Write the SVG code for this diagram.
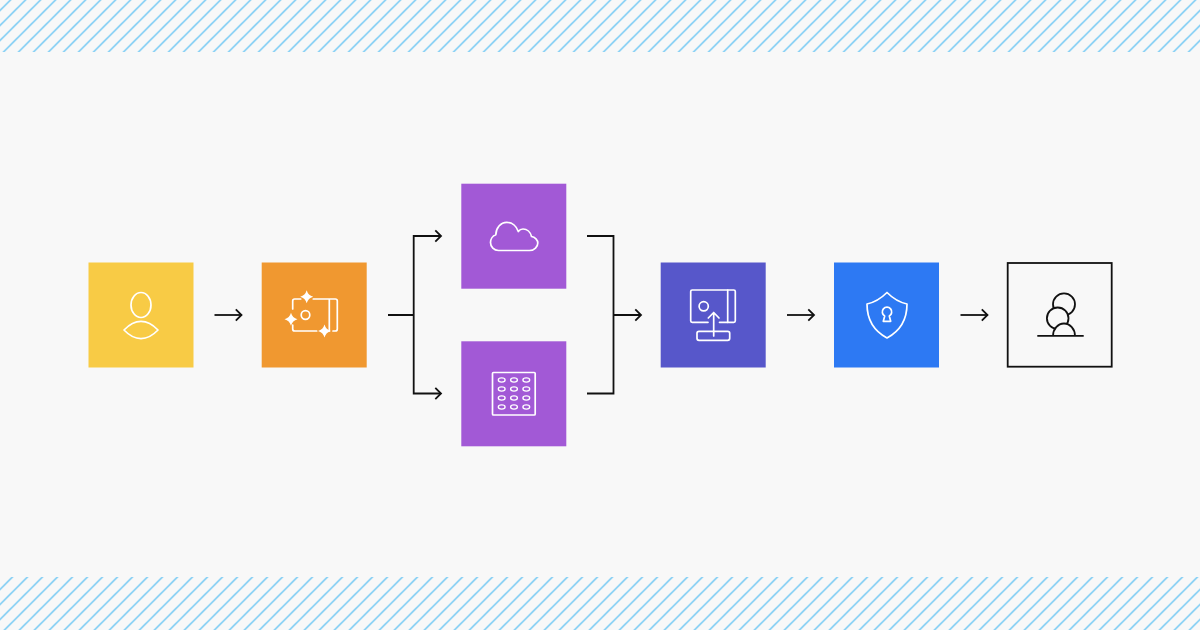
<svg xmlns="http://www.w3.org/2000/svg" width="1200" height="630" viewBox="0 0 1200 630">
<style>
.ic{fill:none;stroke:#fff;stroke-width:1.7;stroke-linecap:round;stroke-linejoin:round}
.sm{fill:none;stroke:#fff;stroke-width:1.3}
.sp{fill:#fff}
.k{fill:none;stroke:#111;stroke-width:1.8}
.b{fill:#f8f8f8;stroke:#111;stroke-width:1.8}
</style>
<defs>
<pattern id="hT" patternUnits="userSpaceOnUse" width="15" height="15" patternTransform="translate(10.5 0)"><path d="M-2,2 L2,-2 M-2,17 L17,-2 M13,17 L17,13" stroke="#6cc6f3" stroke-width="1.4" fill="none"/></pattern>
<pattern id="hB" patternUnits="userSpaceOnUse" width="15" height="15" patternTransform="translate(4.5 0)"><path d="M-2,2 L2,-2 M-2,17 L17,-2 M13,17 L17,13" stroke="#6cc6f3" stroke-width="1.4" fill="none"/></pattern>
<path id="head" d="M-5.700,-5.700 L0,0 L-5.700,5.700" fill="none" stroke="#111" stroke-width="1.8"/>
<path id="star" d="M0,-6.500 Q1.400,-1.400 6.500,0 Q1.400,1.400 0,6.500 Q-1.400,1.400 -6.500,0 Q-1.400,-1.400 0,-6.500Z"/>
</defs>
<rect width="1200" height="630" fill="#f8f8f8"/>
<g id="hatch">
<rect x="0" y="0" width="1200" height="52" fill="url(#hT)"/>
<rect x="0" y="577" width="1200" height="53" fill="url(#hB)"/>
</g>
<g id="connectors">
<path class="k" d="M214.500,315 H241.500"/><use href="#head" x="241.500" y="315"/>
<path class="k" d="M388,315 H413.700 M441,236 H413.700 V393.500 H441"/><use href="#head" x="441" y="236"/><use href="#head" x="441" y="393.500"/>
<path class="k" d="M587,236 H613.500 V393.500 H587 M613.500,315 H641"/><use href="#head" x="641" y="315"/>
<path class="k" d="M787,315 H814"/><use href="#head" x="814" y="315"/>
<path class="k" d="M960.500,315 H987.500"/><use href="#head" x="987.500" y="315"/>
</g>
<g id="user">
<rect x="88.500" y="262.500" width="105" height="105" fill="#f8cb45"/>
<ellipse class="ic" cx="141" cy="305" rx="10" ry="12.500"/>
<path class="ic" d="M124,330 C135,318.500 147,318.500 158,330 C147,341.500 135,341.500 124,330Z"/>
</g>
<g id="orange">
<rect x="261.700" y="262.500" width="105" height="105" fill="#f09830"/>
<path class="ic" d="M292.700,309 V301 Q292.700,299 294.700,299 H300.700 M313.300,299 H335.300 Q337.300,299 337.300,301 V329 Q337.300,331 335.300,331 H333 M329.300,299 V331 M292.700,325 V329 Q292.700,331 294.700,331 H316.700"/>
<circle class="ic" cx="305.500" cy="315" r="4.300"/>
<use class="sp" href="#star" x="306.700" y="296.700"/>
<use class="sp" href="#star" x="291" y="319.300"/>
<use class="sp" href="#star" x="324.500" y="331"/>
</g>
<g id="cloud">
<rect x="461.300" y="183.700" width="105" height="105" fill="#a259d6"/>
<path class="ic" d="M498.500,250.500 H529.500 C534.500,250.500 537.800,246.500 537.800,243 C537.800,240 535,237 531.500,236.500 C530.500,232 527,229 523,229 C521,229 519.500,229.800 518.300,231.500 C516.500,226 512,222.300 506.800,222.300 C500.500,222.300 496,228 495.800,234.800 C492.500,236 490.500,239.500 490.500,242.500 C490.500,247 494,250.500 498.500,250.500Z"/>
</g>
<g id="grid">
<rect x="461.300" y="341.300" width="105" height="105" fill="#a259d6"/>
<rect class="ic" x="492.500" y="372.500" width="42.700" height="42.500" rx="1"/>
<g class="sm">
<ellipse cx="501.700" cy="380" rx="3.400" ry="2.100"/><ellipse cx="514" cy="380" rx="3.400" ry="2.100"/><ellipse cx="526.300" cy="380" rx="3.400" ry="2.100"/>
<ellipse cx="501.700" cy="389" rx="3.400" ry="2.100"/><ellipse cx="514" cy="389" rx="3.400" ry="2.100"/><ellipse cx="526.300" cy="389" rx="3.400" ry="2.100"/>
<ellipse cx="501.700" cy="398" rx="3.400" ry="2.100"/><ellipse cx="514" cy="398" rx="3.400" ry="2.100"/><ellipse cx="526.300" cy="398" rx="3.400" ry="2.100"/>
<ellipse cx="501.700" cy="407" rx="3.400" ry="2.100"/><ellipse cx="514" cy="407" rx="3.400" ry="2.100"/><ellipse cx="526.300" cy="407" rx="3.400" ry="2.100"/>
</g>
</g>
<g id="upload">
<rect x="660.700" y="262.500" width="105" height="105" fill="#5757ca"/>
<path class="ic" d="M708,322.300 H692.200 Q690.700,322.300 690.700,320.800 V291.500 Q690.700,290 692.200,290 H733.800 Q735.300,290 735.300,291.500 V320.800 Q735.300,322.300 733.800,322.300 H719.500"/>
<path class="ic" d="M727.700,290 V322.300"/>
<circle class="ic" cx="703.700" cy="306.300" r="4.600"/>
<rect class="ic" x="697" y="331.300" width="32.700" height="9" rx="2"/>
<path class="ic" d="M713.700,336 V312.500 M708.300,318 L713.700,312.500 L719,318"/>
</g>
<g id="shield">
<rect x="834" y="262.500" width="105" height="105" fill="#2d79f3"/>
<path class="ic" d="M887,292.500 C881,298.500 874,302.500 867,304 C867,320 874,331 887,338 C900,331 907,320 907,304 C900,302.500 893,298.500 887,292.500Z"/>
<path class="ic" d="M883.300,321.300 L884.700,316 A4.700,4.700 0 1 1 889.300,316 L890.700,321.300Z"/>
</g>
<g id="marks">
<rect x="1007.700" y="263" width="104" height="103.700" fill="none" stroke="#111" stroke-width="1.800"/>
<circle class="b" cx="1064" cy="304.300" r="11"/>
<circle class="b" cx="1057.700" cy="318.300" r="10.800"/>
<path class="b" d="M1053,336 A11,12.500 0 0 1 1075,336"/>
<path class="k" d="M1037.300,335.800 H1083.700"/>
</g>
</svg>
